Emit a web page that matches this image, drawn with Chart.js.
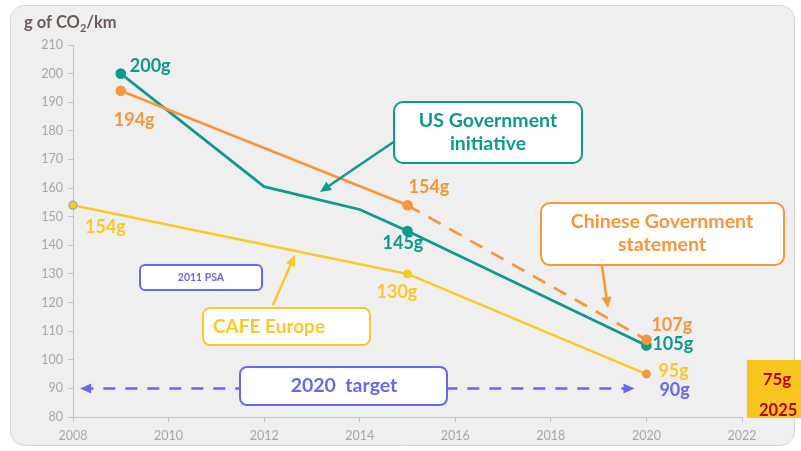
<!DOCTYPE html>
<html>
<head>
<meta charset="utf-8">
<title>CO2 targets</title>
<script src="https://cdn.jsdelivr.net/npm/chart.js@4.4.1/dist/chart.umd.min.js"></script>
<style>
  body { margin: 0; background: #fff; }
</style>
</head>
<body>
<canvas id="Chart" width="801" height="451"></canvas>
<script>
// g of CO2 per km, by year
var usYears = [2009, 2012, 2014, 2015, 2020];
var usValues = [200, 160.5, 152.5, 145, 105];
var usLabels = ["200g", "", "", "145g", "105g"];

var chinaYears = [2009, 2015, 2020];
var chinaValues = [194, 154, 107];
var chinaLabels = ["194g", "154g", "107g"];

var euYears = [2008, 2015, 2020];
var euValues = [154, 130, 95];
var euLabels = ["154g", "130g", "95g"];

var targetYears = [2008.15, 2019.75];
var targetValue = 90;
var targetLabel = "90g";

var goal2025 = ["75g", "2025"];
var xTicks = [2008, 2010, 2012, 2014, 2016, 2018, 2020, 2022];

var TEAL = "#0f998c", ORANGE = "#f7963b", YELLOW = "#f9c92c", PURPLE = "#6767f0";
var FONT = "Lato, 'Open Sans', sans-serif";

function pts(xs, ys) {
  return xs.map(function (x, i) { return { x: x, y: ys[i] }; });
}

// label offsets from their points, in pixels
var labelOffsets = {
  us: [[9, -7], null, null, [-25, 12], [6, -1]],
  china: [[-7, 29], [1, -18], [5, -15]],
  eu: [[12, 22], [-31, 18], [12, -3]]
};

function txt(ctx, s, x, y, color, size, align) {
  ctx.font = "bold " + size + "px " + FONT;
  ctx.fillStyle = color;
  ctx.textAlign = align || "left";
  ctx.textBaseline = "middle";
  ctx.fillText(s, x, y);
}

function arrow(ctx, x1, y1, x2, y2, color, dash) {
  var a = Math.atan2(y2 - y1, x2 - x1), L = 11, W = 5;
  ctx.save();
  ctx.strokeStyle = color;
  ctx.fillStyle = color;
  ctx.lineWidth = 2.5;
  ctx.setLineDash(dash || []);
  ctx.beginPath();
  ctx.moveTo(x1, y1);
  ctx.lineTo(x2 - Math.cos(a) * L * 0.8, y2 - Math.sin(a) * L * 0.8);
  ctx.stroke();
  ctx.setLineDash([]);
  ctx.beginPath();
  ctx.moveTo(x2, y2);
  ctx.lineTo(x2 - Math.cos(a) * L - Math.sin(a) * W, y2 - Math.sin(a) * L + Math.cos(a) * W);
  ctx.lineTo(x2 - Math.cos(a) * L + Math.sin(a) * W, y2 - Math.sin(a) * L - Math.cos(a) * W);
  ctx.closePath();
  ctx.fill();
  ctx.restore();
}

function box(ctx, x, y, w, h, color, fill, r) {
  ctx.save();
  ctx.beginPath();
  ctx.roundRect(x, y, w, h, r);
  ctx.fillStyle = fill;
  ctx.fill();
  if (color) {
    ctx.strokeStyle = color;
    ctx.lineWidth = 2;
    ctx.stroke();
  }
  ctx.restore();
}

var panel = {
  id: "panel",
  beforeDraw: function (chart) {
    var ctx = chart.ctx;
    ctx.save();
    ctx.fillStyle = "#fff";
    ctx.fillRect(0, 0, chart.width, chart.height);
    ctx.beginPath();
    ctx.roundRect(10.5, 5.5, 784, 440, 14);
    ctx.fillStyle = "#efefef";
    ctx.fill();
    ctx.strokeStyle = "#d6d6d6";
    ctx.lineWidth = 1;
    ctx.stroke();
    // axis title with subscript
    ctx.font = "bold 16.5px " + FONT;
    ctx.fillStyle = "#6b5b57";
    ctx.textBaseline = "alphabetic";
    ctx.textAlign = "left";
    var x = 24;
    ctx.fillText("g of CO", x, 28);
    x += ctx.measureText("g of CO").width;
    ctx.font = "bold 11px " + FONT;
    ctx.fillText("2", x, 32);
    x += ctx.measureText("2").width;
    ctx.font = "bold 16.5px " + FONT;
    ctx.fillText("/km", x, 28);
    ctx.restore();
  },
  afterDatasetsDraw: function (chart) {
    var ctx = chart.ctx, xs = chart.scales.x, ys = chart.scales.y;

    // 2020 target line with arrows both ways
    var ty = ys.getPixelForValue(targetValue);
    var tx1 = xs.getPixelForValue(targetYears[0]), tx2 = xs.getPixelForValue(targetYears[1]);
    var mid = (tx1 + tx2) / 2;
    arrow(ctx, mid, ty, tx1, ty, PURPLE, [12, 10]);
    arrow(ctx, mid, ty, tx2, ty, PURPLE, [12, 10]);

    // value labels
    function series(years, values, labels, offs, color) {
      labels.forEach(function (s, i) {
        if (!s) return;
        txt(ctx, s, xs.getPixelForValue(years[i]) + offs[i][0],
            ys.getPixelForValue(values[i]) + offs[i][1], color, 18);
      });
    }
    series(usYears, usValues, usLabels, labelOffsets.us, TEAL);
    series(chinaYears, chinaValues, chinaLabels, labelOffsets.china, ORANGE);
    series(euYears, euValues, euLabels, labelOffsets.eu, YELLOW);
    txt(ctx, targetLabel, xs.getPixelForValue(2020) + 13, ty + 2, PURPLE, 18);

    // callouts
    arrow(ctx, 395, 141, 320, 192, TEAL);
    box(ctx, 394, 102, 188, 61, TEAL, "#fff", 9);
    txt(ctx, "US Government", 488, 121, TEAL, 19.5, "center");
    txt(ctx, "initiative", 488, 144, TEAL, 19.5, "center");

    arrow(ctx, 602, 266, 608, 308, ORANGE);
    box(ctx, 541, 203, 243, 62, ORANGE, "#fff", 9);
    txt(ctx, "Chinese Government", 662, 222, ORANGE, 19.5, "center");
    txt(ctx, "statement", 662, 245, ORANGE, 19.5, "center");

    arrow(ctx, 273, 305, 295, 255, YELLOW);
    box(ctx, 203, 308, 167, 37, YELLOW, "#fff", 7);
    txt(ctx, "CAFE Europe", 213, 327, YELLOW, 19);

    box(ctx, 140, 265, 122, 25, PURPLE, "#fff", 5);
    txt(ctx, "2011 PSA", 201, 278, PURPLE, 10.5, "center");

    box(ctx, 240, 367, 207, 38, PURPLE, "#fff", 7);
    txt(ctx, "2020  target", 344, 386, PURPLE, 19.5, "center");

    // 2025 goal
    ctx.fillStyle = "#f8c61f";
    ctx.fillRect(747, 360, 60, 58);
    txt(ctx, goal2025[0], 777, 380, "#c00000", 17, "center");
    txt(ctx, goal2025[1], 759, 411, "#c00000", 16.5);
  }
};

new Chart("Chart", {
  type: "line",
  data: {
    datasets: [{
      data: pts(chinaYears, chinaValues),
      borderColor: ORANGE,
      backgroundColor: ORANGE,
      borderWidth: 2.7,
      pointRadius: 4,
      segment: { borderDash: function (c) { return c.p0DataIndex === 1 ? [14, 10] : undefined; } }
    }, {
      data: pts(euYears, euValues),
      borderColor: YELLOW,
      borderWidth: 2.5,
      pointRadius: 4,
      pointBackgroundColor: [YELLOW, YELLOW, ORANGE],
      pointBorderColor: ["#a8a8a8", YELLOW, ORANGE],
      pointBorderWidth: [1.5, 1, 1]
    }, {
      data: pts(usYears, usValues),
      borderColor: TEAL,
      backgroundColor: TEAL,
      borderWidth: 2.7,
      pointRadius: [4, 0, 0, 4, 4]
    }]
  },
  options: {
    responsive: false,
    animation: false,
    clip: false,
    layout: { padding: { left: 0, top: 45, right: 59, bottom: 0 } },
    plugins: { legend: { display: false }, tooltip: { enabled: false } },
    scales: {
      x: {
        type: "linear",
        min: 2008,
        max: 2022,
        afterBuildTicks: function (s) { s.ticks = xTicks.map(function (v) { return { value: v }; }); },
        afterFit: function (s) { s.height = 34; },
        ticks: { color: "#a8a8a8", font: { family: FONT, size: 12.5 }, padding: 6, maxRotation: 0,
                 callback: function (v) { return String(v); } },
        grid: { drawOnChartArea: false, tickLength: 5, color: "#c4c4c4" },
        border: { color: "#c4c4c4" }
      },
      y: {
        min: 80,
        max: 210,
        afterFit: function (s) { s.width = 73; },
        ticks: { stepSize: 10, color: "#a8a8a8", font: { family: FONT, size: 12.5 }, padding: 5 },
        grid: { drawOnChartArea: false, tickLength: 5, color: "#c4c4c4" },
        border: { color: "#c4c4c4" }
      }
    }
  },
  plugins: [panel]
});
</script>
</body>
</html>
